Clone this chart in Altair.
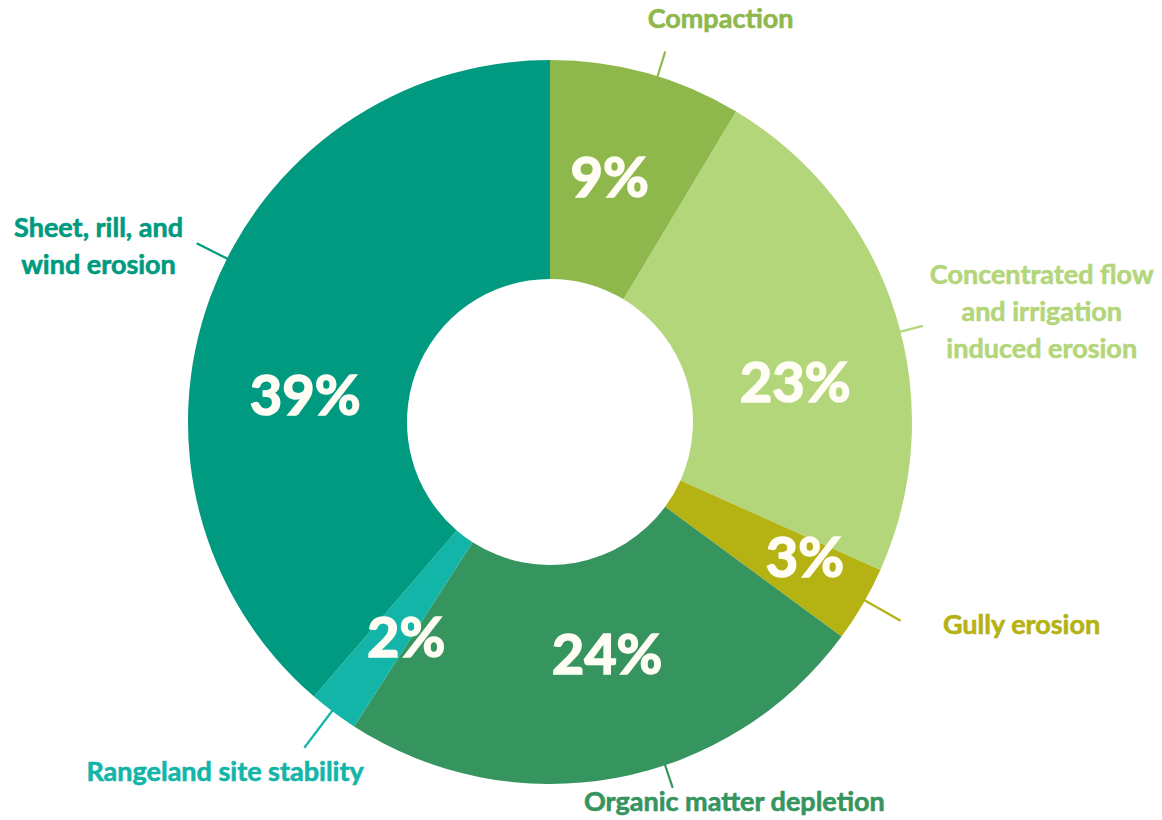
import altair as alt
import pandas as pd

# ---- data ----
categories = [
    "Compaction",
    "Concentrated flow and irrigation induced erosion",
    "Gully erosion",
    "Organic matter depletion",
    "Rangeland site stability",
    "Sheet, rill, and wind erosion",
]
display_names = [
    "Compaction",
    "Concentrated flow\nand irrigation\ninduced erosion",
    "Gully erosion",
    "Organic matter depletion",
    "Rangeland site stability",
    "Sheet, rill, and\nwind erosion",
]
values = [8.6, 23.1, 3.4, 24.0, 2.2, 38.7]
pct_labels = ["9%", "23%", "3%", "24%", "2%", "39%"]
colors = ["#8fb84c", "#b3d67b", "#b5b213", "#36945f", "#13b5a8", "#009a80"]

# ---- layout (style) parameters ----
CX, CY = 550, 422
R_IN, R_OUT = 143, 362
pct_angle_off = [-1.6, 8.9, -1.8, -3.2, -3.3, -14.7]
pct_radius = [249, 248, 290, 242, 261, 246]
lab_angle_off = [7.5, 0.9, -6.8, -15.4, 6.1, 2.8]
lab_radius = [437, 513, 514, 423, 478, 491]
lead_angle_off = [1.8, 3.0, -0.7, -8.1, 0.3, 6.5]
lead_radius = [388, 385, 403, 386, 408, 396]

df = pd.DataFrame({
    "idx": list(range(len(categories))),
    "category": categories,
    "name": display_names,
    "value": values,
    "pct": pct_labels,
})

def arr(lst):
    return "[" + ",".join(str(v) for v in lst) + "][datum.idx]"

color_scale = alt.Scale(domain=categories, range=colors)

base = alt.Chart(df)

arcs = base.mark_arc(innerRadius=R_IN, outerRadius=R_OUT, stroke=None).encode(
    theta=alt.Theta("value:Q", stack=True, scale=alt.Scale(range=[0, 6.283185307])),
    order=alt.Order("idx:Q"),
    color=alt.Color("category:N", scale=color_scale, legend=None),
    x=alt.value(CX),
    y=alt.value(CY),
)

geo = base.transform_window(
    cum="sum(value)", sort=[alt.SortField("idx")], frame=[None, 0]
).transform_joinaggregate(
    total="sum(value)"
).transform_calculate(
    mid="(datum.cum - datum.value/2) / datum.total * 360"
).transform_calculate(
    pa=f"(datum.mid + {arr(pct_angle_off)}) * PI / 180",
    pr=arr(pct_radius),
    la=f"(datum.mid + {arr(lab_angle_off)}) * PI / 180",
    lr=arr(lab_radius),
    ka=f"(datum.mid + {arr(lead_angle_off)}) * PI / 180",
    kr=arr(lead_radius),
).transform_calculate(
    px=f"{CX} + datum.pr * sin(datum.pa)",
    py=f"{CY} - datum.pr * cos(datum.pa)",
    lx=f"{CX} + datum.lr * sin(datum.la)",
    ly=f"{CY} - datum.lr * cos(datum.la)",
    k1x=f"{CX} + {R_OUT - 1} * sin(datum.ka)",
    k1y=f"{CY} - {R_OUT - 1} * cos(datum.ka)",
    k2x=f"{CX} + datum.kr * sin(datum.ka)",
    k2y=f"{CY} - datum.kr * cos(datum.ka)",
)

pct_text = geo.mark_text(
    font="Lato", fontWeight="bold", fontSize=56, color="#fffdf4",
    stroke="#fffdf4", strokeWidth=1.6,
    align="center", baseline="middle",
).encode(
    x=alt.X("px:Q", scale=None),
    y=alt.Y("py:Q", scale=None),
    text="pct:N",
)

leaders = geo.mark_rule(strokeWidth=2.2).encode(
    x=alt.X("k1x:Q", scale=None),
    y=alt.Y("k1y:Q", scale=None),
    x2="k2x:Q",
    y2="k2y:Q",
    color=alt.Color("category:N", scale=color_scale, legend=None),
)

cat_text = geo.mark_text(
    font="Lato", fontWeight="bold", fontSize=27, align="center",
    baseline="middle", lineBreak="\n", lineHeight=37, strokeWidth=0.6,
).encode(
    x=alt.X("lx:Q", scale=None),
    y=alt.Y("ly:Q", scale=None),
    text="name:N",
    color=alt.Color("category:N", scale=color_scale, legend=None),
    stroke=alt.Stroke("category:N", scale=color_scale, legend=None),
)

chart = alt.layer(arcs, leaders, pct_text, cat_text).properties(
    width=1162, height=820, padding=0, autosize=alt.AutoSizeParams(type="none"),
    background="white",
).configure_view(stroke=None)

chart.save("out.html", embed_options={"renderer": "svg", "actions": False})
